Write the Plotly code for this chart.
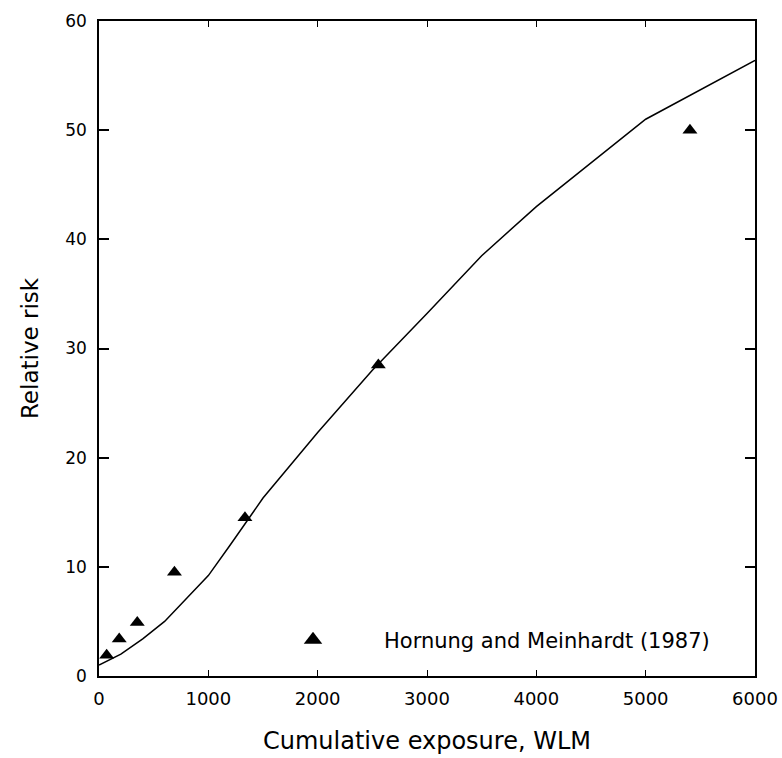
import plotly.graph_objects as go

# model curve (relative risk vs cumulative exposure)
curve_wlm = [0, 200, 400, 600, 800, 1000, 1200, 1500, 2000, 2500, 3000, 3500, 4000, 4500, 5000, 6000]
curve_rr = [1.0, 2.0, 3.4, 5.0, 7.1, 9.2, 12.0, 16.3, 22.3, 28.0, 33.2, 38.5, 43.0, 47.0, 51.0, 56.4]

# Hornung and Meinhardt (1987) observations
obs_wlm = [70, 185, 350, 690, 1335, 2555, 5405]
obs_rr = [1.9, 3.4, 4.9, 9.5, 14.5, 28.5, 50.0]

x_ticks = [0, 1000, 2000, 3000, 4000, 5000, 6000]
y_ticks = [0, 10, 20, 30, 40, 50, 60]

font = "DejaVu Sans, Verdana, sans-serif"

fig = go.Figure()
fig.add_trace(go.Scatter(x=curve_wlm, y=curve_rr, mode="lines",
                         line=dict(color="black", width=1.5), showlegend=False))
fig.add_trace(go.Scatter(x=obs_wlm, y=obs_rr, mode="markers",
                         marker=dict(symbol="triangle-up", size=13, color="black"),
                         showlegend=False))
# legend key only
fig.add_trace(go.Scatter(x=[None], y=[None], mode="markers",
                         marker=dict(symbol="triangle-up", size=17, color="black"),
                         name="Hornung and Meinhardt (1987)"))

# figure sits 8px in from the top-left corner of the window, runs to its right/bottom edge
fig.update_layout(
    width=774, height=750,
    margin=dict(l=91, r=27, t=13, b=82),
    plot_bgcolor="white", paper_bgcolor="white",
    font=dict(family=font, color="black", size=17),
    showlegend=True,
    legend=dict(x=0.218, y=0.055, xanchor="left", yanchor="middle",
                bgcolor="rgba(0,0,0,0)", itemwidth=132,
                font=dict(size=21, family=font)),
)
fig.update_xaxes(range=[0, 6000], tickvals=x_ticks, ticks="inside", ticklen=6,
                 tickwidth=1.2, tickcolor="black", showline=True, linecolor="black",
                 linewidth=1.5, mirror="ticks", showgrid=False, zeroline=False,
                 automargin=False,
                 tickfont=dict(size=18), ticklabelstandoff=6, ticklabeloverflow="allow",
                 title=dict(text="Cumulative exposure, WLM", font=dict(size=24), standoff=24))
fig.update_yaxes(range=[0, 60], tickvals=y_ticks, ticks="inside", ticklen=10,
                 tickwidth=1.5, tickcolor="black", showline=True, linecolor="black",
                 linewidth=1.5, mirror="ticks", showgrid=False, zeroline=False,
                 automargin=False,
                 tickfont=dict(size=17), ticklabelstandoff=7,
                 title=dict(text="Relative risk", font=dict(size=23), standoff=20))

# keep top/left body margin, drop right/bottom so the figure fills the rest of the window
fig.write_html("out.html", config={"displayModeBar": False},
               post_script="document.body.style.margin='8px 0 0 8px';")
